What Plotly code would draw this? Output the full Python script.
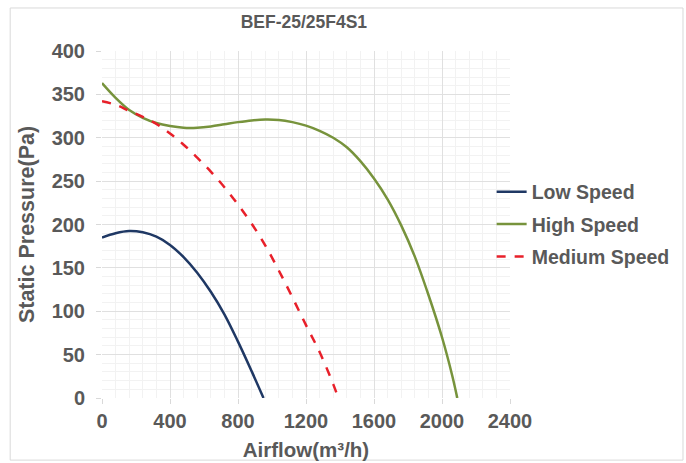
import plotly.graph_objects as go

title_text = "BEF-25/25F4S1"
x_title = "Airflow(m³/h)"
y_title = "Static Pressure(Pa)"
series_names = ["Low Speed", "High Speed", "Medium Speed"]

low_q = [0, 80, 160, 240, 320, 400, 480, 560, 640, 720, 800, 880, 950]
low_p = [185, 190, 192.5, 191, 186, 176.5, 162.5, 144.5, 122.5, 96.5, 65, 31, 0]

high_q = [0, 80, 160, 240, 320, 400, 480, 560, 640, 720, 800, 880, 960, 1040, 1120, 1200,
          1280, 1360, 1440, 1520, 1600, 1680, 1760, 1840, 1920, 2000, 2060, 2090]
high_p = [363, 346, 332, 323, 317, 313.5, 311.5, 311.5, 313, 315.5, 318, 320, 321, 320.5, 318, 314,
          308, 300, 289, 273, 253, 229, 199, 163, 119, 70, 26, 0]

med_q = [0, 80, 160, 240, 320, 400, 480, 560, 640, 720, 800, 880, 960, 1040, 1120, 1200, 1280, 1360, 1390]
med_p = [342, 338, 331, 324, 316, 305, 292, 277, 261, 243, 223, 201, 176, 147, 116, 84, 53, 16, 0]

x_ticks = [0, 400, 800, 1200, 1600, 2000, 2400]
y_ticks = [0, 50, 100, 150, 200, 250, 300, 350, 400]

gray = "#595959"
font_family = "Liberation Sans, Arial, sans-serif"

fig = go.Figure()
fig.add_trace(go.Scatter(x=low_q, y=low_p, name="<b>" + series_names[0] + "</b>", mode="lines",
                         legendgroup="a",
                         line=dict(color="#1F3864", width=2.5, shape="spline", smoothing=1.0)))
fig.add_trace(go.Scatter(x=high_q, y=high_p, name="<b>" + series_names[1] + "</b>", mode="lines",
                         legendgroup="b",
                         line=dict(color="#77933C", width=2.5, shape="spline", smoothing=1.0)))
fig.add_trace(go.Scatter(x=med_q, y=med_p, name="<b>" + series_names[2] + "</b>", mode="lines",
                         legendgroup="c",
                         line=dict(color="#E8202A", width=2.5, dash="dash", shape="spline", smoothing=1.0)))

fig.update_layout(
    width=686, height=463,
    paper_bgcolor="white", plot_bgcolor="white",
    margin=dict(l=102, r=176, t=51, b=65, autoexpand=False),
    font=dict(family=font_family, color=gray),
    title=dict(text="<b>" + title_text + "</b>", x=0.443, xanchor="center",
               y=0.952, yanchor="middle", font=dict(size=17.5, color=gray)),
    legend=dict(x=0.955, y=0.50, xanchor="left", yanchor="middle",
                font=dict(size=19.5, color=gray, family=font_family),
                itemwidth=30, tracegroupgap=4, bgcolor="rgba(0,0,0,0)"),
    shapes=[dict(type="rect", xref="paper", yref="paper",
                 x0=-0.225, x1=1.424, y0=-0.179, y1=1.124,
                 line=dict(color="#D9D9D9", width=1), layer="below")],
)

fig.update_xaxes(range=[0, 2400], tickvals=x_ticks,
                 ticktext=["<b>%d</b>" % v for v in x_ticks],
                 tickfont=dict(size=20, color=gray),
                 showgrid=True, gridcolor="#E0E0E0", gridwidth=1,
                 minor=dict(dtick=80, showgrid=True, gridcolor="#F2F2F2", gridwidth=1),
                 ticks="outside", ticklen=5, tickcolor="#D9D9D9",
                 showline=False, zeroline=False, automargin=False,
                 title=dict(text="<b>" + x_title + "</b>", font=dict(size=20.5, color=gray), standoff=11))
fig.update_yaxes(range=[0, 400], tickvals=y_ticks,
                 ticktext=["<b>%d</b>" % v for v in y_ticks],
                 tickfont=dict(size=20, color=gray),
                 showgrid=True, gridcolor="#E0E0E0", gridwidth=1,
                 minor=dict(dtick=10, showgrid=True, gridcolor="#F2F2F2", gridwidth=1),
                 ticks="outside", ticklen=5, tickcolor="#D9D9D9", ticklabelstandoff=7,
                 showline=False, zeroline=False, automargin=False,
                 title=dict(text="<b>" + y_title + "</b>", font=dict(size=21.5, color=gray), standoff=11))

fig.write_html("out.html", config={"displayModeBar": False},
               post_script="document.body.style.margin='0';document.body.style.padding='0';")
